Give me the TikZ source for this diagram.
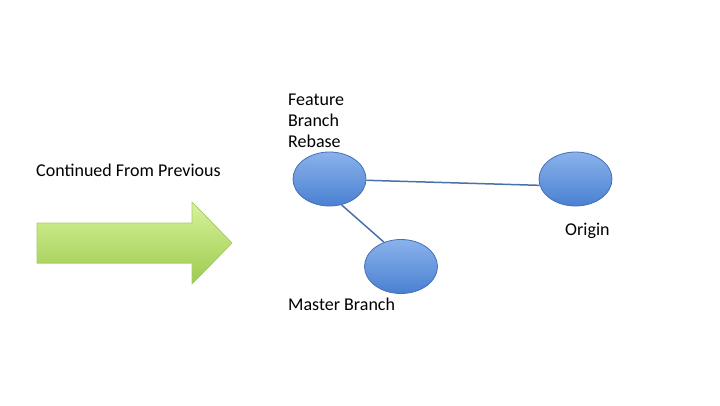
\documentclass[tikz,border=0pt]{standalone}
\usepackage{fontspec}
\setmainfont{Carlito}
\usetikzlibrary{shapes.geometric}
\definecolor{ellTop}{HTML}{8AB2EC}
\definecolor{ellBot}{HTML}{4A80D2}
\definecolor{ellLine}{HTML}{4470B4}
\definecolor{conn}{HTML}{4A72A8}
\definecolor{arrTop}{HTML}{D8F29A}
\definecolor{arrBot}{HTML}{9CCB4E}
\definecolor{arrLine}{HTML}{A8CF66}
\tikzset{
  commit/.style={ellipse, draw=ellLine, line width=0.8pt, top color=ellTop, bottom color=ellBot, minimum width=73pt, minimum height=54pt, inner sep=0pt},
  lbl/.style={font=\fontsize{18}{21}\selectfont, anchor=west, inner sep=0pt, align=left},
  edge/.style={draw=conn, line width=1.5pt}
}
\begin{document}
\begin{tikzpicture}[x=1pt,y=-1pt]
\useasboundingbox (0,0) rectangle (720,405);
% big arrow
\fill[top color=arrTop, bottom color=arrBot, draw=arrLine, line width=0.6pt]
  (37,223) -- (192,223) -- (192,202) -- (232,243) -- (192,284) -- (192,263) -- (37,263) -- cycle;
\node[lbl] (cont) at (36,170) {Continued From Previous};
\node[commit] (feat) at (329.5,179) {};
\node[commit] (orig) at (575.5,179) {};
\node[commit] (mast) at (401,266.5) {};
\draw[edge] (feat.-2) -- (orig.190);
\draw[edge] (feat.-65) -- (mast.125);
\node[lbl] (flab) at (288,121) {Feature\\Branch\\Rebase};
\node[lbl] (olab) at (565,231) {Origin};
\node[lbl] (mlab) at (288,304) {Master Branch};
\end{tikzpicture}
\end{document}
